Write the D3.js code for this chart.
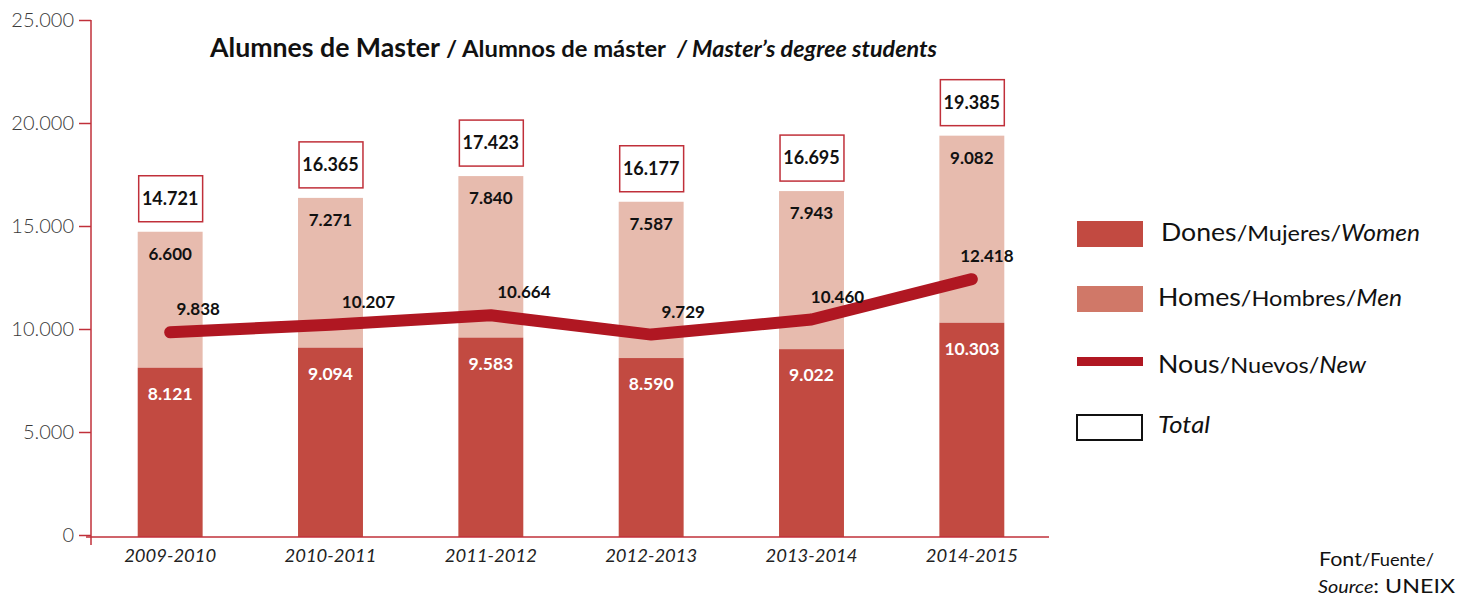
<!DOCTYPE html>
<html>
<head>
<meta charset="utf-8">
<script src="https://cdn.jsdelivr.net/npm/d3@7"></script>
<style>
  body { margin: 0; background: #fff; }
  svg { font-family: Lato, "Open Sans", sans-serif; }
</style>
</head>
<body>
<svg id="chart" width="1460" height="596"></svg>
<script>
// Data
const years = ["2009-2010", "2010-2011", "2011-2012", "2012-2013", "2013-2014", "2014-2015"];
const women = [8121, 9094, 9583, 8590, 9022, 10303];
const men = [6600, 7271, 7840, 7587, 7943, 9082];
const totals = [14721, 16365, 17423, 16177, 16695, 19385];
const newStudents = [9838, 10207, 10664, 9729, 10460, 12418];
const yTicks = [0, 5000, 10000, 15000, 20000, 25000];

// Colours
const womenColour = "#c24a41";
const menColour = "#e7bbae";
const menLegendColour = "#d07868";
const lineColour = "#b01722";
const axisColour = "#c0303a";

const svg = d3.select("#chart");
const fmt = d => d3.format(",")(d).replace(/,/g, ".");

// Scales
const x = d3.scaleBand()
    .domain(years)
    .range([90, 1052])
    .paddingInner(0.595)
    .paddingOuter(0.2975);

const y = d3.scaleLinear()
    .domain([0, 25000])
    .range([535, 20]);

// Y axis
const yAxis = svg.append("g")
    .attr("transform", "translate(91,0)")
    .call(d3.axisLeft(y).tickValues(yTicks).tickSize(12).tickPadding(5).tickFormat(fmt));
yAxis.select(".domain").remove();
yAxis.selectAll(".tick line").attr("stroke", axisColour).attr("stroke-width", 1.5);
yAxis.selectAll(".tick text")
    .attr("fill", "#3a3a3a")
    .style("font-size", "20px")
    .style("font-weight", 300)
    .style("font-family", "Lato, sans-serif");

svg.append("line")
    .attr("x1", 91).attr("x2", 91)
    .attr("y1", y(25000)).attr("y2", 545)
    .attr("stroke", axisColour).attr("stroke-width", 1.5);

// Bars
const g = svg.append("g");
years.forEach((yr, i) => {
    const bx = x(yr);
    const bw = x.bandwidth();
    g.append("rect")
        .attr("x", bx).attr("width", bw)
        .attr("y", y(totals[i])).attr("height", y(women[i]) - y(totals[i]))
        .attr("fill", menColour);
    g.append("rect")
        .attr("x", bx).attr("width", bw)
        .attr("y", y(women[i])).attr("height", y(0) - y(women[i]) + 2)
        .attr("fill", womenColour);

    // total box
    g.append("rect")
        .attr("x", bx + 1).attr("width", bw - 1)
        .attr("y", y(totals[i]) - 56).attr("height", 46)
        .attr("fill", "#fff")
        .attr("stroke", axisColour).attr("stroke-width", 1.5);
    g.append("text")
        .attr("x", bx + bw / 2).attr("y", y(totals[i]) - 27)
        .attr("text-anchor", "middle")
        .style("font-size", "18px").style("font-weight", 700)
        .attr("fill", "#111")
        .text(fmt(totals[i]));

    g.append("text")
        .attr("x", bx + bw / 2).attr("y", y(totals[i]) + 28)
        .attr("text-anchor", "middle")
        .style("font-size", "17px").style("font-weight", 700)
        .attr("fill", "#111")
        .text(fmt(men[i]));

    g.append("text")
        .attr("x", bx + bw / 2).attr("y", y(women[i]) + 32)
        .attr("text-anchor", "middle")
        .style("font-size", "17.5px").style("font-weight", 700)
        .attr("fill", "#fff")
        .text(fmt(women[i]));
});

// X axis line
svg.append("line")
    .attr("x1", 86).attr("x2", 1049)
    .attr("y1", 537).attr("y2", 537)
    .attr("stroke", axisColour).attr("stroke-width", 1.5);

svg.append("g").selectAll("text")
    .data(years)
    .join("text")
    .attr("x", d => x(d) + x.bandwidth() / 2 - 46)
    .attr("y", 562)
    .attr("textLength", 92)
    .attr("lengthAdjust", "spacingAndGlyphs")
    .style("font-size", "17px").style("font-style", "italic")
    .attr("fill", "#222")
    .text(d => d);

// New students line
const line = d3.line()
    .x((d, i) => x(years[i]) + x.bandwidth() / 2)
    .y(d => y(d));

svg.append("path")
    .datum(newStudents)
    .attr("d", line)
    .attr("fill", "none")
    .attr("stroke", lineColour)
    .attr("stroke-width", 12)
    .attr("stroke-linecap", "round")
    .attr("stroke-linejoin", "round");

const labelDx = [28, 38, 33, 32, 26, 15];
svg.append("g").selectAll("text")
    .data(newStudents)
    .join("text")
    .attr("x", (d, i) => x(years[i]) + x.bandwidth() / 2 + labelDx[i])
    .attr("y", d => y(d) - 17)
    .attr("text-anchor", "middle")
    .style("font-size", "17px").style("font-weight", 700)
    .attr("fill", "#111")
    .text(fmt);

// Title
const titleG = svg.append("g").attr("fill", "#111").style("font-weight", 700);
titleG.append("text").attr("x", 210).attr("y", 57)
    .attr("textLength", 230).attr("lengthAdjust", "spacingAndGlyphs")
    .style("font-size", "26px").text("Alumnes de Master");
titleG.append("text").attr("x", 446).attr("y", 57)
    .attr("textLength", 220).attr("lengthAdjust", "spacingAndGlyphs")
    .style("font-size", "23px").text("/ Alumnos de máster");
titleG.append("text").attr("x", 677).attr("y", 57)
    .attr("textLength", 260).attr("lengthAdjust", "spacingAndGlyphs")
    .style("font-size", "22px").style("font-style", "italic").text("/ Master\u2019s degree students");

// Legend
const legend = svg.append("g");
const legendRows = [
    { a: "Dones", b: "/Mujeres/", c: "Women", y: 241, x: 1161, w: 259 },
    { a: "Homes", b: "/Hombres/", c: "Men", y: 306, x: 1158, w: 244 },
    { a: "Nous", b: "/Nuevos/", c: "New", y: 373, x: 1158, w: 208 },
    { a: "", b: "", c: "Total", y: 433, x: 1158, w: 52 }
];
legend.append("rect").attr("x", 1077).attr("y", 221).attr("width", 66).attr("height", 26).attr("fill", womenColour);
legend.append("rect").attr("x", 1077).attr("y", 286).attr("width", 66).attr("height", 26).attr("fill", menLegendColour);
legend.append("rect").attr("x", 1077).attr("y", 357).attr("width", 66).attr("height", 9).attr("fill", lineColour);
legend.append("rect").attr("x", 1077).attr("y", 415).attr("width", 65).attr("height", 25)
    .attr("fill", "#fff").attr("stroke", "#111").attr("stroke-width", 2);

legendRows.forEach(r => {
    const t = legend.append("text").attr("x", r.x).attr("y", r.y).attr("fill", "#111")
        .attr("textLength", r.w).attr("lengthAdjust", "spacingAndGlyphs");
    t.append("tspan").style("font-size", "25px").text(r.a);
    t.append("tspan").style("font-size", "22px").text(r.b);
    t.append("tspan").style("font-size", "23px").style("font-style", "italic").text(r.c);
});

// Source
const s1 = svg.append("text").attr("x", 1319).attr("y", 566).attr("fill", "#111")
    .attr("textLength", 115).attr("lengthAdjust", "spacingAndGlyphs");
s1.append("tspan").style("font-size", "20px").text("Font");
s1.append("tspan").style("font-size", "17px").text("/Fuente/");
const s2 = svg.append("text").attr("x", 1318).attr("y", 593).attr("fill", "#111")
    .attr("textLength", 137).attr("lengthAdjust", "spacingAndGlyphs");
s2.append("tspan").style("font-size", "17px").style("font-style", "italic").text("Source");
s2.append("tspan").style("font-size", "20px").text(": UNEIX");
</script>
</body>
</html>
